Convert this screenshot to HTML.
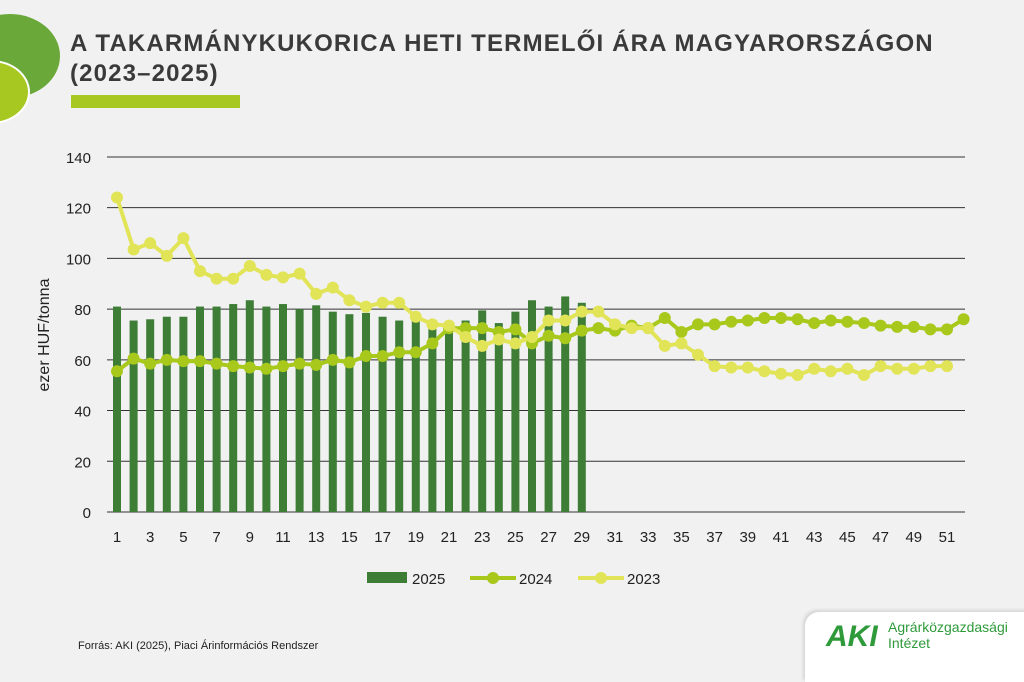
<!DOCTYPE html>
<html><head><meta charset="utf-8"><style>
body{margin:0;width:1024px;height:663px;background:#f1f1f1;overflow:hidden;position:relative;font-family:"Liberation Sans",sans-serif}
.t{position:absolute;left:70px;font-weight:bold;font-size:24px;color:#3a3a3a;letter-spacing:1.15px}
</style></head><body>
<div style="position:absolute;left:-40px;top:14px;width:100px;height:84px;border-radius:50%;background:#6aa83a"></div>
<div style="position:absolute;left:-48px;top:60px;width:74px;height:60px;border-radius:50%;background:#a7c820;border:2px solid #fff"></div>
<div class="t" style="top:30px">A TAKARMÁNYKUKORICA HETI TERMELŐI ÁRA MAGYARORSZÁGON</div>
<div class="t" style="top:60px">(2023–2025)</div>
<div style="position:absolute;left:71px;top:95px;width:169px;height:13px;background:#a7c820"></div>
<svg width="1024" height="663" style="position:absolute;left:0;top:0" id="s" font-family="Liberation Sans, sans-serif"></svg>
<div style="position:absolute;left:805px;top:612px;width:260px;height:70px;background:#fff;border-radius:14px 0 0 0;box-shadow:-2px -2px 3px #d5d5d5"></div>
<div style="position:absolute;left:826px;top:620px;font-weight:bold;font-size:30px;color:#2e9a3a;font-style:italic">AKI</div>
<div style="position:absolute;left:888px;top:619px;font-size:14px;color:#2e9a3a;line-height:16px">Agrárközgazdasági<br>Intézet</div>
<div style="position:absolute;left:78px;top:640px;font-size:11px;color:#222">Forrás: AKI (2025), Piaci Árinformációs Rendszer</div>
<script>
var s=document.getElementById('s'),h='';
function Y(v){return 512-v*2.536}function X(w){return 117+(w-1)*16.6}
for(var v=0;v<=140;v+=20){h+='<line x1="107" x2="965" y1="'+Y(v)+'" y2="'+Y(v)+'" stroke="#333" stroke-width="1"/>';h+='<text x="91" y="'+(Y(v)+6)+'" font-size="15" text-anchor="end" fill="#222">'+v+'</text>'}
for(var w=1;w<=51;w+=2)h+='<text x="'+X(w)+'" y="542" font-size="15" text-anchor="middle" fill="#222">'+w+'</text>';
h+='<text transform="translate(49,335) rotate(-90)" font-size="16" text-anchor="middle" fill="#222">ezer HUF/tonna</text>';
var b=[81,75.5,76,77,77,81,81,82,83.5,81,82,80,81.5,79,78,78.5,77,75.5,76,74,72,75.5,79.5,74.5,79,83.5,81,85,82.5];
b.forEach(function(v,i){h+='<rect x="'+(X(i+1)-4)+'" y="'+Y(v)+'" width="8" height="'+v*2.536+'" fill="#3d7d36"/>'});
var a=[124,103.5,106,101,108,95,92,92,97,93.5,92.5,94,86,88.5,83.5,81,82.5,82.5,77,74,73.5,69,65.5,68,66.5,69,75.5,75.5,79,79,74,72.5,72.5,65.5,66.5,62,57.5,57,57,55.5,54.5,54,56.5,55.5,56.5,54,57.5,56.5,56.5,57.5,57.5];
var c=[55.5,60.5,58.5,60,59.5,59.5,58.5,57.5,57,56.5,57.5,58.5,58,60,59,61.5,61.5,63,63,66.5,72.5,72.5,72.5,71,72,66.5,69.5,68.5,71.5,72.5,71.5,73.5,72.5,76.5,71,74,74,75,75.5,76.5,76.5,76,74.5,75.5,75,74.5,73.5,73,73,72,72,76];
function ser(d,col){var p=d.map(function(v,i){return X(i+1)+','+Y(v)}).join(' ');h+='<polyline points="'+p+'" fill="none" stroke="'+col+'" stroke-width="4"/>';d.forEach(function(v,i){h+='<circle cx="'+X(i+1)+'" cy="'+Y(v)+'" r="6" fill="'+col+'"/>'})}
ser(c,'#a8c81c');ser(a,'#e2e458');
h+='<rect x="367" y="572" width="40" height="11" fill="#3d7d36"/><text x="412" y="584" font-size="15" fill="#222">2025</text>';
h+='<line x1="470" x2="516" y1="578" y2="578" stroke="#a8c81c" stroke-width="4"/><circle cx="493" cy="578" r="6" fill="#a8c81c"/><text x="519" y="584" font-size="15" fill="#222">2024</text>';
h+='<line x1="578" x2="624" y1="578" y2="578" stroke="#e2e458" stroke-width="4"/><circle cx="601" cy="578" r="6" fill="#e2e458"/><text x="627" y="584" font-size="15" fill="#222">2023</text>';
s.innerHTML=h;
</script>
</body></html>
